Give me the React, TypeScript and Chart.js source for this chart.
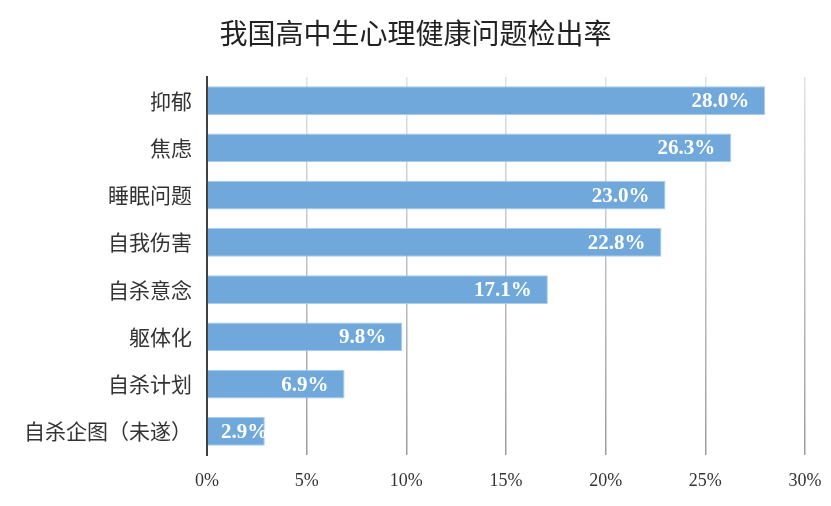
import React, { useEffect, useRef } from "react";
import { Chart, registerables } from "chart.js";

Chart.register(...registerables);

const titleText = "我国高中生心理健康问题检出率";
const categories = ["抑郁", "焦虑", "睡眠问题", "自我伤害", "自杀意念", "躯体化", "自杀计划", "自杀企图（未遂）"];
const values = [28.0, 26.3, 23.0, 22.8, 17.1, 9.8, 6.9, 2.9];
const xTicks = [0, 5, 10, 15, 20, 25, 30];

const valueLabelPlugin = {
  id: "valueLabels",
  afterDatasetsDraw(chart: any) {
    const ctx = chart.ctx;
    const meta = chart.getDatasetMeta(0);
    const left = chart.chartArea.left;
    ctx.save();
    ctx.font = "bold 21px 'Liberation Serif', 'Times New Roman', serif";
    ctx.fillStyle = "#ffffff";
    ctx.textAlign = "right";
    ctx.textBaseline = "middle";
    meta.data.forEach((bar: any, i: number) => {
      const txt = values[i].toFixed(1) + "%";
      const w = ctx.measureText(txt).width;
      const x = Math.max(bar.x - 16, left + 14 + w);
      ctx.fillText(txt, x, bar.y + 1);
    });
    ctx.restore();
  },
};

const titlePlugin = {
  id: "centerTitle",
  afterDraw(chart: any) {
    const ctx = chart.ctx;
    ctx.save();
    ctx.font = "28px 'Noto Sans CJK SC', sans-serif";
    ctx.fillStyle = "#222222";
    ctx.textAlign = "center";
    ctx.textBaseline = "middle";
    ctx.fillText(titleText, chart.width / 2, 33);
    ctx.restore();
  },
};

export default function App() {
  const ref = useRef<HTMLCanvasElement>(null);
  useEffect(() => {
    document.body.style.margin = "0";
    const chart = new Chart(ref.current as HTMLCanvasElement, {
      type: "bar",
      data: {
        labels: categories,
        datasets: [
          {
            data: values,
            backgroundColor: "#70a8db",
            borderColor: "#a9cbec",
            borderWidth: 1,
            borderSkipped: "start",
            barPercentage: 0.61,
            categoryPercentage: 1,
          },
        ],
      },
      options: {
        indexAxis: "y",
        animation: false,
        responsive: false,
        devicePixelRatio: 1,
        layout: { padding: { top: 77, right: 26, bottom: 0, left: 0 } },
        plugins: {
          legend: { display: false },
          tooltip: { enabled: false },
          title: { display: false },
        },
        scales: {
          x: {
            min: 0,
            max: 30,
            afterBuildTicks(scale: any) {
              scale.ticks = xTicks.map((v) => ({ value: v }));
            },
            afterFit(scale: any) {
              scale.height = 51;
              scale.paddingRight = 0;
              scale.paddingLeft = 0;
            },
            border: { display: false },
            grid: {
              drawTicks: false,
              lineWidth: 1.5,
              color: (c: any) => {
                const a = c.chart.chartArea;
                if (!a) return "#bbbbbb";
                const g = c.chart.ctx.createLinearGradient(0, a.top, 0, a.bottom);
                g.addColorStop(0, "#e2e2e2");
                g.addColorStop(1, "#9c9c9c");
                return g;
              },
            },
            ticks: {
              padding: 15,
              color: "#333333",
              font: { family: "'Liberation Serif', 'Times New Roman', serif", size: 18 },
              callback: (v: any) => v + "%",
            },
          },
          y: {
            afterFit(scale: any) {
              scale.width = 207;
            },
            border: { display: true, color: "#404040", width: 2 },
            grid: { display: false, drawTicks: false },
            ticks: {
              padding: 15,
              color: "#333333",
              font: { family: "'Noto Sans CJK SC', sans-serif", size: 21 },
            },
          },
        },
      },
      plugins: [valueLabelPlugin, titlePlugin],
    });
    return () => chart.destroy();
  }, []);
  return (
    <div style={{ width: 831, height: 506 }}>
      <canvas ref={ref} width={831} height={506} />
    </div>
  );
}
